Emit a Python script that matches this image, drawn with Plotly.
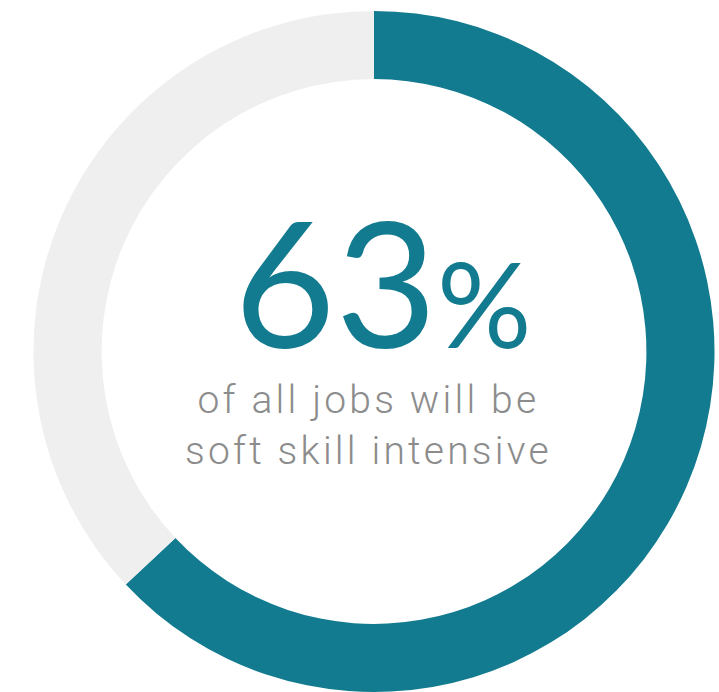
import plotly.graph_objects as go

labels = ["Soft skill intensive", "Other"]
values = [63, 37]
colors = ["#137B8F", "#EFEFEF"]
big_number = "63"
subtitle_lines = ["of all jobs will be", "soft skill intensive"]

fig = go.Figure(go.Pie(
    labels=labels, values=values, hole=0.80, sort=False, direction="clockwise",
    rotation=0, marker=dict(colors=colors, line=dict(width=0)),
    textinfo="none", hoverinfo="label+percent", showlegend=False,
    domain=dict(x=[33/719, 715/719], y=[0, 1 - 11/692]),
))

fig.add_annotation(
    x=383/719, y=1 - 387/692, xref="paper", yref="paper",
    xanchor="center", yanchor="bottom", showarrow=False,
    text=big_number + "<span style='font-size:118px'>%</span>",
    font=dict(family="Lato", size=175, color="#137B8F"),
)
sub_text = "<br>".join(
    "<span style='letter-spacing:3.2px'>" + s + "</span>" for s in subtitle_lines
)
fig.add_annotation(
    x=368/719, y=1 - 425/692, xref="paper", yref="paper",
    xanchor="center", yanchor="middle", showarrow=False,
    text=sub_text,
    font=dict(family="Roboto", size=39, color="#8C8C8C", weight=300),
)

fig.update_layout(
    width=719, height=692, margin=dict(l=0, r=0, t=0, b=0),
    paper_bgcolor="white", plot_bgcolor="white",
)
fig.write_html("out.html")
